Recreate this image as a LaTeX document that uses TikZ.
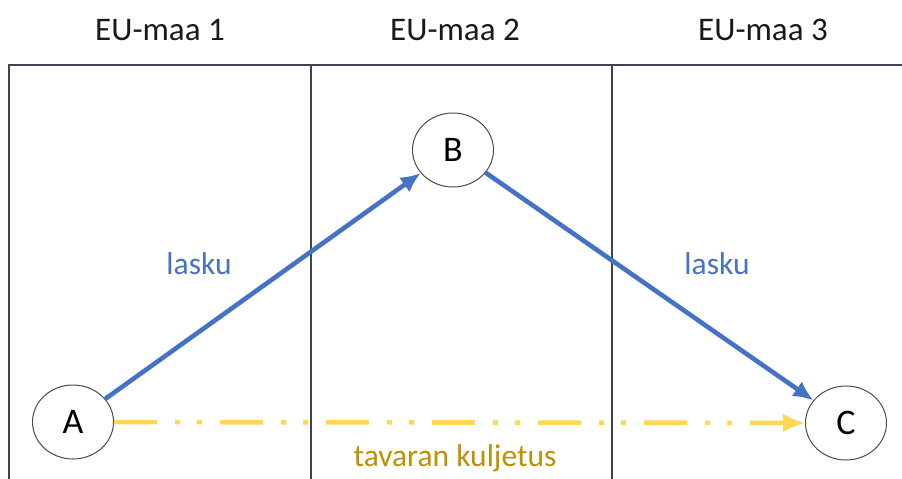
\documentclass[tikz,border=0pt]{standalone}
\usepackage{fontspec}
\setmainfont{Carlito}
\usetikzlibrary{arrows.meta,arrows,positioning,shapes.geometric}

\definecolor{laskublue}{RGB}{68,114,196}
\definecolor{tavarayellow}{RGB}{255,214,85}
\definecolor{tavaragold}{RGB}{191,144,0}
\definecolor{rajagray}{RGB}{62,68,84}

\begin{document}
\begin{tikzpicture}
          [x=1pt, y=-1pt,
          party/.style={ellipse, draw=black!70, line width=1pt, fill=white,
              minimum width=81pt, minimum height=74pt, inner sep=0pt,
              font=\fontsize{36}{40}\selectfont},
          maa/.style={font=\fontsize{33}{38}\selectfont, text=black!90},
          raja/.style={draw=rajagray, line width=1.4pt},
          lasku/.style={draw=laskublue, line width=4.6pt, -{Latex[length=20pt,width=18pt]}},
          kuljetus/.style={draw=tavarayellow, line width=4.6pt,
              dash pattern=on 43pt off 18pt on 5pt off 17pt on 5pt off 18pt,
              -{Latex[length=22pt,width=19pt]}},
          selite/.style={font=\fontsize{31.5}{36}\selectfont}]

          \useasboundingbox (0,0) rectangle (902,479);

          % maiden otsikot ja rajat
          \node [maa] (maa1) at (160,30) {EU-maa 1};
          \node [maa] (maa2) at (455,30) {EU-maa 2};
          \node [maa] (maa3) at (763,30) {EU-maa 3};
          \path [raja] (9,479) -- (9,65) -- (902,65);
          \foreach \x in {311,612}
              \path [raja] (\x,65) -- (\x,479);

          % osapuolet
          \node [party] (ostaja) at (73,422) {A};
          \node [party] (myyja) at (453,150) {B};
          \node [party] (vastaanottaja) at (846,423) {C};

          \path [lasku] (ostaja) -- (myyja);
          \path [lasku] (myyja) -- (vastaanottaja);
          \path [kuljetus] (ostaja) -- (vastaanottaja);

          \node [selite, text=laskublue] (lasku1) at (199,264) {lasku};
          \node [selite, text=laskublue] (lasku2) at (717,264) {lasku};
          \node [selite, text=tavaragold] (kuljetusteksti) at (455,458) {tavaran kuljetus};
  \end{tikzpicture}
\end{document}
